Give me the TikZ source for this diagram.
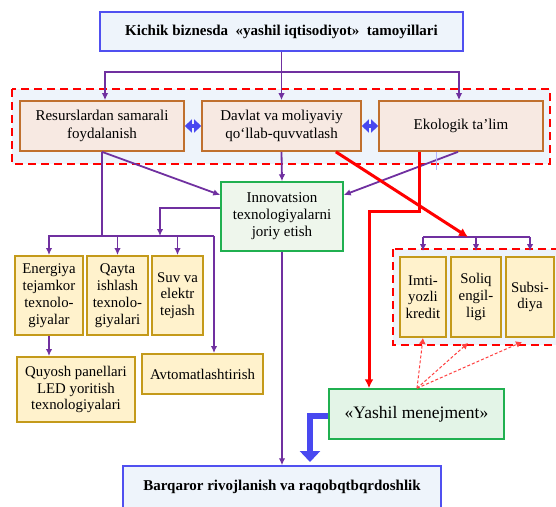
\documentclass[tikz,border=0pt]{standalone}
\usepackage{fontspec}
\setmainfont{Liberation Serif}
\usepackage{xcolor}
\usepackage{tikz}
\usetikzlibrary{arrows.meta, calc}
\definecolor{purp}{HTML}{7030A0}
\definecolor{bluebd}{HTML}{5050F0}
\definecolor{bluebg}{HTML}{EEF4FB}
\definecolor{orbd}{HTML}{C0702E}
\definecolor{orbg}{HTML}{F7E9E2}
\definecolor{grbd}{HTML}{20B050}
\definecolor{grbg}{HTML}{EEF6EC}
\definecolor{yasbg}{HTML}{E3F4E7}
\definecolor{yebd}{HTML}{C49A1A}
\definecolor{yebg}{HTML}{FFF2CC}
\definecolor{thickblue}{HTML}{4848F0}
\tikzset{
    mainbox/.style={draw=bluebd, fill=bluebg, line width=1.5pt, font=\bfseries\fontsize{15}{17}\selectfont},
    princbox/.style={draw=orbd, fill=orbg, line width=1.7pt, align=center, minimum height=50pt, font=\fontsize{15}{18}\selectfont},
    innbox/.style={draw=grbd, fill=grbg, line width=1.5pt, align=center, font=\fontsize{15}{17}\selectfont},
    techbox/.style={draw=yebd, fill=yebg, line width=2pt, align=center, inner sep=1pt, font=\fontsize{14.8}{16.8}\selectfont},
    yasbox/.style={draw=grbd, fill=yasbg, line width=1.5pt, font=\fontsize{17.5}{20}\selectfont},
    group/.style={draw=red, fill=bluebg, line width=1.5pt, dash pattern=on 8pt off 5pt},
    link/.style={draw=purp, line width=1.8pt},
    dblarrow/.style={draw=thickblue, line width=4.5pt, {Triangle[length=7pt,width=13pt]}-{Triangle[length=7pt,width=13pt]}},
    redlink/.style={draw=red, line width=3pt, >={Latex[length=9pt,width=9pt]}},
    reddash/.style={draw=red!75, line width=1pt, dash pattern=on 3pt off 2pt, >={Latex[length=6pt,width=7pt]}},
    bluearrow/.style={draw=thickblue, line width=6.5pt, -{Triangle[length=11pt,width=20pt]}}
}

\begin{document}
\begin{tikzpicture}[x=1pt, y=-1pt, line join=miter, >={Latex[length=7pt,width=6.5pt]}]
    \useasboundingbox (0,0) rectangle (556,506);
    % dashed groups behind the boxes
    \draw[group] (12,89) rectangle (550,164);
    \draw[group] (393,249) rectangle (562,345);

    \node[mainbox, minimum width=363pt, minimum height=39pt] (tam) at (281.5,31.5) {Kichik biznesda\ \ «yashil iqtisodiyot»\ \ tamoyillari};

    \node[princbox, minimum width=164pt] (res) at (102,126) {Resurslardan samarali\\ foydalanish};
    \node[princbox, minimum width=159pt] (dav) at (281.5,126) {Davlat va moliyaviy\\ qo‘llab-quvvatlash};
    \node[princbox, minimum width=164pt] (eko) at (461,126) {Ekologik ta’lim};

    \node[innbox, minimum width=122pt, minimum height=69pt] (inn) at (282,216.5) {Innovatsion\\ texnologiyalarni\\ joriy etish};

    \node[techbox, minimum width=68pt, minimum height=79pt] (ene) at (49,295.5) {Energiya\\ tejamkor\\ texnolo-\\ giyalar};
    \node[techbox, minimum width=61pt, minimum height=79pt] (qay) at (117.5,295.5) {Qayta\\ ishlash\\ texnolo-\\ giyalari};
    \node[techbox, minimum width=51pt, minimum height=79pt] (suv) at (177.5,295.5) {Suv va\\ elektr\\ tejash};
    \node[techbox, minimum width=118pt, minimum height=65pt] (quy) at (76,389.5) {Quyosh panellari\\ LED yoritish\\ texnologiyalari};
    \node[techbox, minimum width=121pt, minimum height=40pt] (avt) at (202.5,374) {Avtomatlashtirish};

    \node[techbox, minimum width=46pt, minimum height=80pt] (imt) at (423,297) {Imti-\\ yozli\\ kredit};
    \node[techbox, minimum width=50pt, minimum height=80pt] (sol) at (476,297) {Soliq\\ engil-\\ ligi};
    \node[techbox, minimum width=48pt, minimum height=80pt] (sub) at (530,297) {Subsi-\\ diya};

    \node[yasbox, minimum width=175pt, minimum height=50pt] (yas) at (416.5,414) {«Yashil menejment»};
    \node[mainbox, minimum width=318pt, minimum height=42pt] (bar) at (282,487) {Barqaror rivojlanish va raqobqtbqrdoshlik};

    % title to principles
    \coordinate (tj) at (281.5,72);
    \draw[link] (tam.south) -- (tj);
    \draw[link,->] (tj) -| ([xshift=3pt]res.north);
    \draw[link,->] (tj) -- (dav.north);
    \draw[link,->] (tj) -| ([xshift=-2pt]eko.north);
    \draw[dblarrow] (res.east) -- (dav.west);
    \draw[dblarrow] (dav.east) -- (eko.west);

    % principles to innovation
    \draw[link,->] (res.south) -- ([yshift=21.5pt]inn.west);
    \draw[link,->] (dav.south) -- (inn.north);
    \draw[link,->] ([xshift=-3pt]eko.south) -- ([yshift=21.5pt]inn.east);
    \draw[draw=blue!30, line width=0.7pt] ([xshift=-25pt]eko.south) -- ++(0,18);

    % technologies
    \coordinate (br) at (214,236);
    \coordinate (bm) at (160,236);
    \draw[link] (res.south) -- (res.south |- br);
    \draw[link,->] (br) -| (ene.north);
    \draw[link,->] (br) -- (br |- avt.north);
    \draw[link,->] (qay.north |- br) -- (qay.north);
    \draw[link,->] (suv.north |- br) -- (suv.north);
    \draw[link,->] ([yshift=8.5pt]inn.west) -| (bm);
    \draw[link,->] (ene.south) -- (ene.south |- quy.north);
    \draw[link,->] (inn.south) -- (bar.north);

    % financial support
    \coordinate (fk) at (468,237);
    \draw[link] (imt.north |- fk) -- (sub.north |- fk);
    \foreach \t in {imt,sol,sub}
        \draw[link,->] (\t.north |- fk) -- ([yshift=5pt]\t.north);
    \draw[redlink,->] ([xshift=-26pt]dav.south east) -- (fk);
    \coordinate (rk) at (369,211);
    \draw[redlink,->] ([xshift=-42pt]eko.south) |- (rk) -- (rk |- yas.north);

    % green management
    \coordinate (bt) at (310,462);
    \draw[bluearrow] ([yshift=-2pt]yas.west) -| (bt);
    \draw[reddash,->] ([xshift=0.5pt]yas.north) -- (imt.south);
    \draw[reddash,->] ([xshift=0.5pt]yas.north) -- ([xshift=-8pt,yshift=-5pt]sol.south);
    \draw[reddash,->] ([xshift=0.5pt]yas.north) -- ([xshift=-8pt,yshift=-4pt]sub.south);
\end{tikzpicture}
\end{document}
